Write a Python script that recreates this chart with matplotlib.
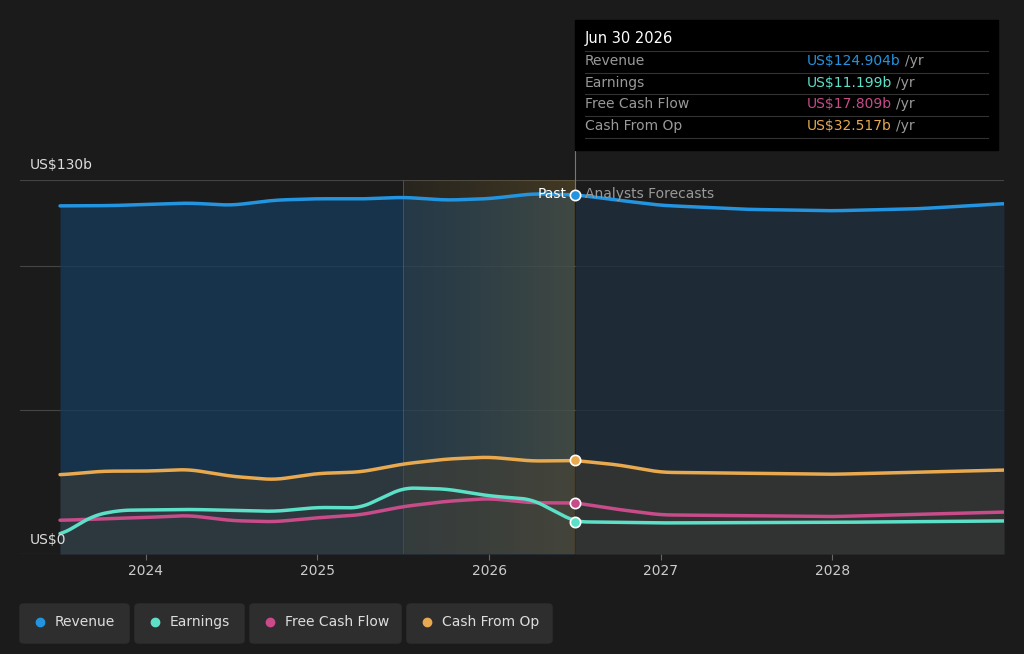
import matplotlib.pyplot as plt
import numpy as np
from matplotlib.patches import FancyBboxPatch, Rectangle

rev_t = [2023.5,2023.8,2024.0,2024.25,2024.5,2024.75,2025.0,2025.25,2025.5,2025.75,2026.0,2026.25,2026.5,2026.75,2027.0,2027.5,2028.0,2028.5,2029.0]
rev_v = [121.0,121.1,121.5,122.0,121.2,123.0,123.5,123.4,124.0,123.0,123.5,125.2,124.9,123.0,121.2,119.8,119.3,120.0,121.8]
earn_t = [2023.5,2023.7,2023.85,2024.25,2024.5,2024.75,2025.0,2025.25,2025.5,2025.75,2026.0,2026.25,2026.5,2027.0,2028.0,2029.0]
earn_v = [6.5,13.5,15.2,15.5,15.2,14.8,16.2,16.0,23.0,22.6,20.2,19.0,11.2,10.8,11.0,11.5]
fcf_t = [2023.5,2023.8,2024.0,2024.25,2024.5,2024.75,2025.0,2025.25,2025.5,2025.75,2026.0,2026.25,2026.5,2026.75,2027.0,2028.0,2029.0]
fcf_v = [11.7,12.3,12.7,13.4,11.6,11.2,12.6,13.6,16.5,18.3,19.3,17.8,17.8,15.5,13.6,13.0,14.6]
cfo_t = [2023.5,2023.75,2024.0,2024.25,2024.5,2024.75,2025.0,2025.25,2025.5,2025.75,2026.0,2026.25,2026.5,2026.75,2027.0,2028.0,2029.0]
cfo_v = [27.5,28.8,28.8,29.4,27.0,25.8,28.0,28.5,31.3,33.0,33.7,32.3,32.5,31.0,28.4,27.7,29.2]

def smooth(t, v):
    x = np.linspace(t[0], t[-1], 600)
    y = np.interp(x, t, v)
    k = np.ones(15) / 15
    yp = np.pad(y, 7, mode='edge')
    return x, np.convolve(yp, k, mode='valid')

bg = '#1b1b1b'
fig = plt.figure(figsize=(10.24, 6.54), dpi=100, facecolor=bg)
ax = fig.add_axes([20/1024, 1-554/654, 984/1024, 374/654])
ax.set_facecolor(bg)
x0 = 2023.5 - 40/171.5
ax.set_xlim(x0, 2029.0)
ax.set_ylim(0, 130)
for s in ax.spines.values():
    s.set_visible(False)
for g in [50, 100, 130]:
    ax.axhline(g, color='#444444', lw=0.8, zorder=1)
ax.axhline(0, color='#555555', lw=0.8, zorder=1)

split = 2026.5
rx, ry = smooth(rev_t, rev_v)
m = rx <= split
ax.fill_between(rx[m], 0, ry[m], color='#163a5c', alpha=0.75, zorder=2, lw=0)
ax.fill_between(rx[~m], 0, ry[~m], color='#1f2f3d', alpha=0.8, zorder=2, lw=0)
grad = np.linspace(0, 1, 256).reshape(1, -1)
ax.imshow(grad, extent=[2025.5, split, 0, 130], aspect='auto', cmap=plt.matplotlib.colors.LinearSegmentedColormap.from_list('g', [(0.45,0.38,0.2,0.15),(0.55,0.45,0.2,0.35)]), zorder=3)
ax.axvline(2025.5, color='#555555', lw=0.6, zorder=3)
ax.plot([split, split], [124.9, 140], color='#777777', lw=0.8, zorder=3, clip_on=False)
cx, cy = smooth(cfo_t, cfo_v)
ax.fill_between(cx, 0, cy, color='#4a4030', alpha=0.45, zorder=3, lw=0)

series = [(rev_t, rev_v, '#2394df', 124.904), (cfo_t, cfo_v, '#e8a94f', 32.517),
          (fcf_t, fcf_v, '#c84b8a', 17.809), (earn_t, earn_v, '#5de0c8', 11.199)]
for t, v, c, val in series:
    x, y = smooth(t, v)
    ax.plot(x, y, color=c, lw=2.5, zorder=4, solid_capstyle='round')
    ax.scatter([split], [val], s=55, color=c, edgecolor='white', lw=1.2, zorder=6)

ax.text(split - 0.05, 125, 'Past', color='white', fontsize=10, ha='right', va='center', zorder=7)
ax.text(split + 0.06, 125, 'Analysts Forecasts', color='#999999', fontsize=10, ha='left', va='center', zorder=7)
ax.set_xticks([2024, 2025, 2026, 2027, 2028])
ax.set_xticklabels(['2024', '2025', '2026', '2027', '2028'])
ax.tick_params(axis='x', colors='#cccccc', labelsize=10, length=4, color='#666666')
ax.set_yticks([])
fig.text(30/1024, 1-165/654, 'US$130b', color='#dddddd', fontsize=10, va='center')
fig.text(30/1024, 1-540/654, 'US$0', color='#dddddd', fontsize=10, va='center')

fig.patches.append(Rectangle((575/1024, 1-150/654), 423/1024, 130/654, transform=fig.transFigure, color='#000000', zorder=10))
fig.text(585/1024, 1-39/654, 'Jun 30 2026', color='white', fontsize=10.5, va='center', zorder=11)
rows = [('Revenue', 'US$124.904b', '#2394df'), ('Earnings', 'US$11.199b', '#5de0c8'),
        ('Free Cash Flow', 'US$17.809b', '#c84b8a'), ('Cash From Op', 'US$32.517b', '#e8a94f')]
rend = fig.canvas.get_renderer()
for i, (n, v, c) in enumerate(rows):
    y = 61 + i * 21.7
    fig.add_artist(plt.Line2D([585/1024, 988/1024], [1-(y-10)/654]*2, color='#333333', lw=0.8, zorder=11))
    fig.text(585/1024, 1-y/654, n, color='#999999', fontsize=10, va='center', zorder=11)
    t = fig.text(807/1024, 1-y/654, v, color=c, fontsize=10, va='center', zorder=11)
    w = t.get_window_extent(renderer=rend).width
    fig.text((807 + w + 4)/1024, 1-y/654, '/yr', color='#999999', fontsize=10, va='center', zorder=11)
fig.add_artist(plt.Line2D([585/1024, 988/1024], [1-(61+4*21.7-10)/654]*2, color='#333333', lw=0.8, zorder=11))

leg = [('Revenue', '#2394df', 20, 129), ('Earnings', '#5de0c8', 135, 244), ('Free Cash Flow', '#c84b8a', 250, 401), ('Cash From Op', '#e8a94f', 407, 552)]
for n, c, a, b in leg:
    fig.patches.append(FancyBboxPatch((a/1024, 1-643/654), (b-a)/1024, 39/654, boxstyle='round,pad=0,rounding_size=0.004',
                                      transform=fig.transFigure, color='#2e2e2e', zorder=10))
    fig.add_artist(plt.Line2D([(a+20)/1024], [1-622/654], marker='o', color=c, markersize=6, zorder=11))
    fig.text((a+35)/1024, 1-622/654, n, color='#dddddd', fontsize=10, va='center', zorder=11)

fig.savefig('out.png', dpi=100, facecolor=bg)
